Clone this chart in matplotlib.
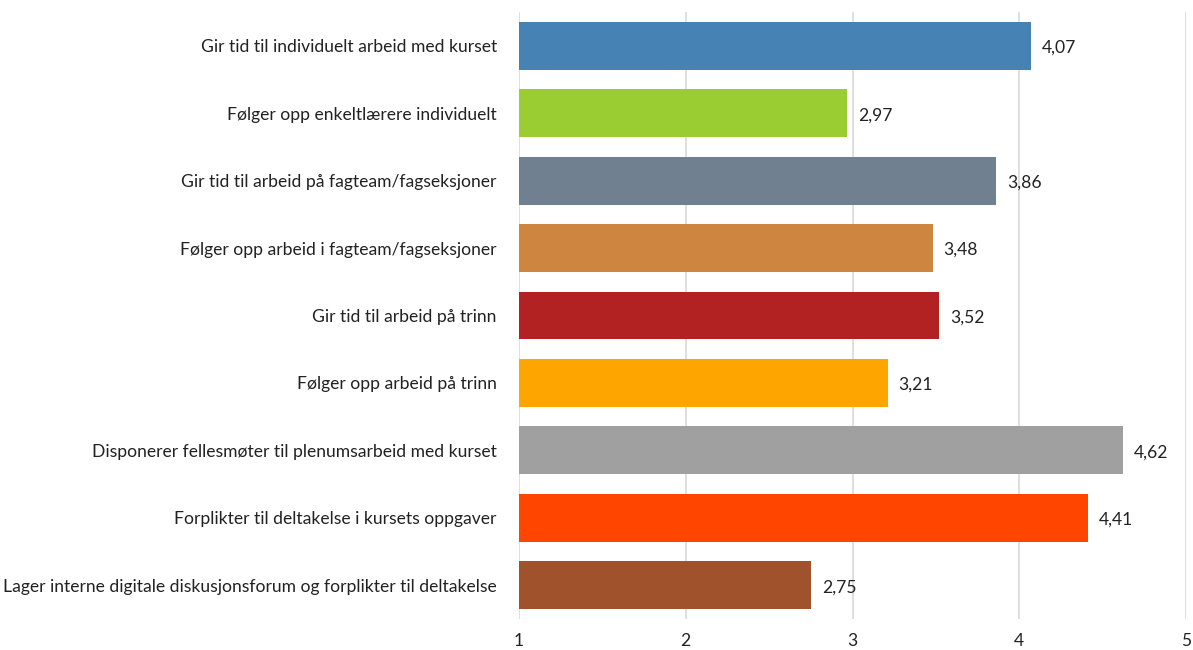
import matplotlib.pyplot as plt

categories = [
    "Gir tid til individuelt arbeid med kurset",
    "Følger opp enkeltlærere individuelt",
    "Gir tid til arbeid på fagteam/fagseksjoner",
    "Følger opp arbeid i fagteam/fagseksjoner",
    "Gir tid til arbeid på trinn",
    "Følger opp arbeid på trinn",
    "Disponerer fellesmøter til plenumsarbeid med kurset",
    "Forplikter til deltakelse i kursets oppgaver",
    "Lager interne digitale diskusjonsforum og forplikter til deltakelse",
]
values = [4.07, 2.97, 3.86, 3.48, 3.52, 3.21, 4.62, 4.41, 2.75]
colors = ["#4682B4", "#9ACD32", "#708090", "#CD853F", "#B22222",
          "#FFA500", "#A0A0A0", "#FF4500", "#A0522D"]

plt.rcParams["font.family"] = ["Lato", "DejaVu Sans"]

fig = plt.figure(figsize=(11.93, 6.5), dpi=100)
ax = fig.add_axes([519 / 1193, 1 - 619 / 650, 667 / 1193, 607 / 650])

pos = list(range(len(categories)))
ax.barh(pos, [v - 1 for v in values], left=1, height=0.71, color=colors, zorder=3)
for p, v in zip(pos, values):
    ax.text(v + 0.065, p + 0.03, f"{v:.2f}".replace(".", ","), va="center", ha="left",
            fontsize=12.6, color="#222222")

ax.set_xlim(1, 5)
ax.set_ylim(len(categories) - 0.5, -0.5)
ax.set_xticks([1, 2, 3, 4, 5])
ax.set_yticks(pos)
ax.set_yticklabels(categories, fontsize=12.6, color="#222222")
ax.tick_params(axis="x", length=0, pad=10, labelsize=12.6, labelcolor="#222222")
ax.tick_params(axis="y", length=0, pad=16)
ax.grid(axis="x", color="#D9D9D9", linewidth=1.2, zorder=0)
for s in ["top", "right", "bottom", "left"]:
    ax.spines[s].set_visible(False)

fig.savefig("out.png", dpi=100)
